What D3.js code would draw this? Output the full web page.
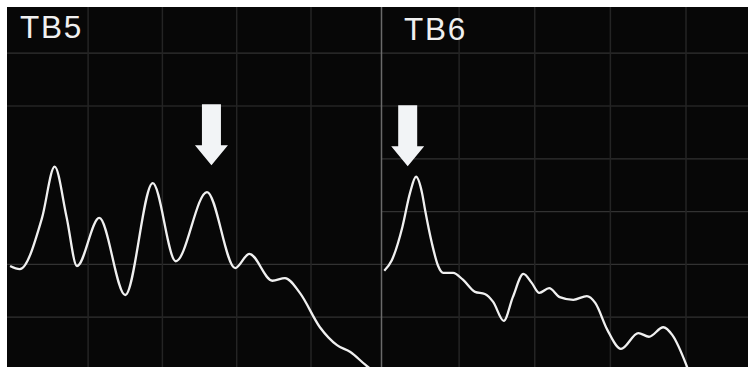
<!DOCTYPE html>
<html>
<head>
<meta charset="utf-8">
<script src="https://cdn.jsdelivr.net/npm/d3@7"></script>
<style>
  html, body { margin: 0; padding: 0; background: #ffffff; }
  svg { display: block; }
</style>
</head>
<body>
<script>
// ---- data (x in grid units, y in grid units) ----
const panelLabels = ["TB5", "TB6"];
const gridX = [1, 2, 3, 4];
const gridY = [1, 2, 3, 4, 5, 6];
const gridYByPanel = [[1, 2, 5, 6], [1, 2, 3, 4, 5, 6]];

const seriesTB5 = [
  [-0.05, 1.97], [0.08, 1.91], [0.38, 2.88], [0.55, 3.85], [0.71, 2.90], [0.85, 1.97],
  [1.15, 2.88], [1.50, 1.42], [1.87, 3.54], [2.18, 2.06], [2.60, 3.37],
  [2.98, 1.93], [3.17, 2.20], [3.48, 1.69], [3.65, 1.74], [3.85, 1.46],
  [4.12, 0.81], [4.35, 0.47], [4.53, 0.34], [4.73, 0.10], [4.82, 0.00]
];
const seriesTB6 = [
  [0.01, 1.88], [0.11, 2.08], [0.25, 2.71], [0.35, 3.35], [0.43, 3.66],
  [0.51, 3.35], [0.55, 3.03], [0.64, 2.40], [0.72, 1.98], [0.79, 1.84],
  [0.92, 1.84], [1.05, 1.71], [1.21, 1.48], [1.34, 1.44], [1.45, 1.29],
  [1.59, 0.93], [1.71, 1.38], [1.85, 1.82], [1.96, 1.65], [2.06, 1.46],
  [2.19, 1.55], [2.33, 1.38], [2.51, 1.33], [2.69, 1.40], [2.80, 1.27],
  [2.96, 0.76], [3.14, 0.40], [3.37, 0.70], [3.51, 0.63], [3.70, 0.81],
  [3.82, 0.66], [4.03, 0.00]
];
const series = [seriesTB5, seriesTB6];
// arrow tip positions (grid units)
const arrowTips = [[2.66, 3.88], [0.32, 3.86]];

// ---- layout ----
const W = 748, H = 367;
const svg = d3.select("body").append("svg").attr("width", W).attr("height", H);

svg.append("rect").attr("x", 0).attr("y", 0).attr("width", W).attr("height", H).attr("fill", "#ffffff");
svg.append("rect").attr("x", 7).attr("y", 7).attr("width", W - 7).attr("height", H - 7).attr("fill", "#070707");

const y = d3.scaleLinear().domain([0, 7]).range([370, 0.4]);
const panels = [
  { x: d3.scaleLinear().domain([0, 4]).range([13.8, 311]), left: 7, right: 381 },
  { x: d3.scaleLinear().domain([0, 4]).range([383.5, 686]), left: 382, right: 748 }
];

panels.forEach((p, i) => {
  const g = svg.append("g");
  g.append("clipPath").attr("id", "clip" + i)
    .append("rect").attr("x", p.left).attr("y", 7).attr("width", p.right - p.left).attr("height", H - 7);
  const cg = g.append("g").attr("clip-path", `url(#clip${i})`);

  cg.selectAll("line.gy").data(gridYByPanel[i]).join("line")
    .attr("x1", p.left).attr("x2", p.right)
    .attr("y1", d => y(d)).attr("y2", d => y(d))
    .attr("stroke", "#323232").attr("stroke-width", 1.2);
  cg.selectAll("line.gx").data(gridX).join("line")
    .attr("x1", d => p.x(d)).attr("x2", d => p.x(d))
    .attr("y1", 7).attr("y2", H)
    .attr("stroke", "#242424").attr("stroke-width", 1.5);

  const line = d3.line().x(d => p.x(d[0])).y(d => y(d[1])).curve(d3.curveMonotoneX);
  cg.append("path").datum(series[i]).attr("d", line)
    .attr("fill", "none").attr("stroke", "#f0f0f0").attr("stroke-width", 2.3)
    .attr("stroke-linejoin", "round");

  // arrow
  const tx = p.x(arrowTips[i][0]), ty = y(arrowTips[i][1]);
  const sw = 9.5, hw = 16.5, hh = 20, sh = 61;
  const pts = [
    [tx - sw, ty - sh], [tx + sw, ty - sh], [tx + sw, ty - hh], [tx + hw, ty - hh],
    [tx, ty], [tx - hw, ty - hh], [tx - sw, ty - hh]
  ];
  cg.append("path").attr("d", "M" + pts.map(q => q.join(",")).join("L") + "Z")
    .attr("fill", "#f2f4f6");

  g.append("text").text(panelLabels[i])
    .attr("x", i === 0 ? 20 : 404).attr("y", i === 0 ? 38 : 40)
    .attr("font-family", "Liberation Sans, Arial, sans-serif")
    .attr("font-size", 31.5).attr("letter-spacing", 1.8).attr("fill", "#f0f0f0");
});

// divider
svg.append("line").attr("x1", 381.5).attr("x2", 381.5).attr("y1", 7).attr("y2", H)
  .attr("stroke", "#6a6a6a").attr("stroke-width", 1.5);
</script>
</body>
</html>
